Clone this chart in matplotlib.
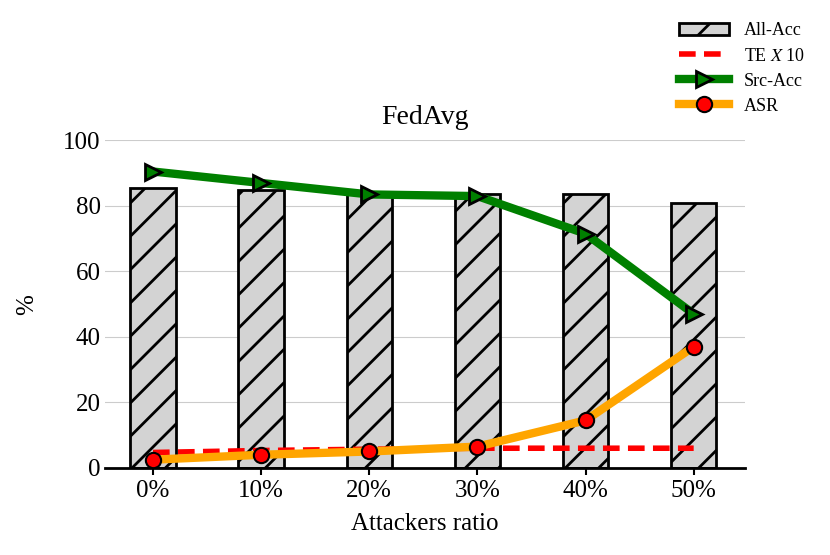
import matplotlib.pyplot as plt
import numpy as np

plt.rcParams['font.family'] = 'Liberation Serif'
plt.rcParams['mathtext.fontset'] = 'stix'
plt.rcParams['hatch.linewidth'] = 2

ratios = ['0%', '10%', '20%', '30%', '40%', '50%']
all_acc = [85.5, 85, 84, 83.5, 83.5, 81]
src_acc = [90.5, 87, 83.5, 83, 71.5, 47]
asr = [2.5, 4, 5, 6.5, 14.5, 37]
te_x10 = [4.7, 5.3, 5.7, 6, 6, 6]

x = np.arange(len(ratios))
fig = plt.figure(figsize=(8.3, 5.55), dpi=100)
ax = fig.add_axes([0.127, 0.157, 0.77, 0.59])

ax.bar(x, all_acc, width=0.42, color='lightgray', edgecolor='black',
       linewidth=2, hatch='/', label='All-Acc', zorder=2)
ax.plot(x, asr, color='orange', lw=6, marker='o', ms=11, mfc='red',
        mec='black', mew=1.5, label='ASR', zorder=4)
ax.plot(x, src_acc, color='green', lw=6, marker='>', ms=12, mfc='green',
        mec='black', mew=2, label='Src-Acc', zorder=4)
ax.plot(x, te_x10, color='red', lw=4, ls=(0, (3, 1.5)),
        label='TE $X$ 10', zorder=3)

ax.set_xlim(-0.44, 5.47)
ax.set_ylim(0, 100)
ax.set_xticks(x)
ax.set_xticklabels(ratios, fontsize=18)
ax.set_yticks(range(0, 101, 20))
ax.tick_params(axis='y', labelsize=18, length=0)
ax.tick_params(axis='x', length=5, width=1.5)
ax.yaxis.grid(True, color='#cccccc', lw=0.8, zorder=0)
ax.set_axisbelow(True)
for s in ['top', 'right', 'left']:
    ax.spines[s].set_visible(False)
ax.spines['bottom'].set_linewidth(2)
ax.set_xlabel('Attackers ratio', fontsize=18, labelpad=8)
ax.set_ylabel('%', fontsize=18, labelpad=18)
ax.set_title('FedAvg', fontsize=20, pad=12)

h, l = ax.get_legend_handles_labels()
order = [3, 2, 1, 0]
ax.legend([h[i] for i in order], [l[i] for i in order], loc='upper right',
          bbox_to_anchor=(1.12, 1.41), frameon=False, fontsize=13,
          handlelength=2.8, labelspacing=0.45)

fig.savefig('out.png')
